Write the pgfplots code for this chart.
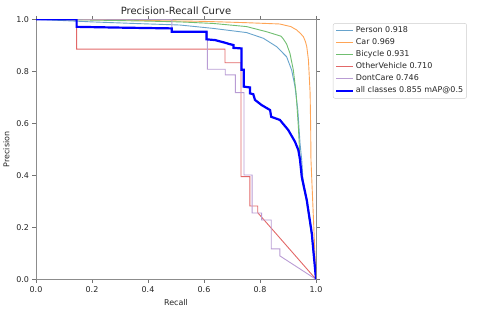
\documentclass[border=0pt]{standalone}
\usepackage{fontspec}
\setmainfont{DejaVu Sans}
\usepackage{pgfplots}
\pgfplotsset{compat=1.18}
\definecolor{c0}{HTML}{1F77B4}
\definecolor{c1}{HTML}{FF7F0E}
\definecolor{c2}{HTML}{2CA02C}
\definecolor{c3}{HTML}{D62728}
\definecolor{c4}{HTML}{9467BD}
\colorlet{l0}{c0!68!white}
\colorlet{l1}{c1!70!white}
\colorlet{l2}{c2!68!white}
\colorlet{l3}{c3!70!white}
\colorlet{l4}{c4!65!white}
\begin{document}
\begin{tikzpicture}
\path[use as bounding box] (-36bp,-31.7bp) rectangle (444bp,279.3bp);
\begin{axis}[
  at={(0,0)}, anchor=south west,
  scale only axis, width=280bp, height=260bp,
  xmin=0, xmax=1, ymin=0, ymax=1,
  xtick={0,0.2,0.4,0.6,0.8,1}, ytick={0,0.2,0.4,0.6,0.8,1},
  /pgf/number format/assume math mode=true,
  /pgf/number format/.cd, fixed, fixed zerofill, precision=1, /pgfplots/.cd,
  tick label style={font=\fontsize{8}{9.6}\selectfont, text=black!85},
  tick align=outside, major tick length=3.5bp,
  tick style={black!55, line width=0.6bp},
  axis line style={black!45, line width=0.6bp},
  title={Precision-Recall Curve},
  title style={font=\fontsize{10}{12}\selectfont, text=black!85, yshift=-4.5bp},
  xlabel={Recall}, ylabel={Precision},
  label style={font=\fontsize{8}{9.6}\selectfont, text=black!85},
  legend style={at={(1.0607,0.985)}, anchor=north west, draw=black!20,
    rounded corners=2bp, font=\fontsize{8}{9.6}\selectfont,
    row sep=1bp, inner sep=2bp,
    nodes={inner sep=1.5bp, text height=6bp, text depth=2bp, text=black!85}},
  legend cell align=left,
  legend image code/.code={\draw[#1, sharp corners] (0bp,0bp) -- (17bp,0bp);},
]
\addplot[draw=l0, line width=0.9bp] coordinates {
(0,1) (0.1,0.995) (0.2,0.99) (0.35,0.984) (0.514,0.978) (0.633,0.965) (0.752,0.949) (0.812,0.927) (0.859,0.895) (0.895,0.856) (0.913,0.805) (0.925,0.741) (0.935,0.651) (0.943,0.523) (0.949,0.459) (0.953,0.39) (0.967,0.3) (0.985,0.17) (1,0)};
\addlegendentry{Person 0.918}
\addplot[draw=l1, line width=0.9bp] coordinates {
(0,1) (0.3,0.997) (0.6,0.992) (0.75,0.987) (0.87,0.982) (0.91,0.972) (0.931,0.959) (0.945,0.945) (0.955,0.933) (0.962,0.915) (0.967,0.895) (0.973,0.843) (0.976,0.78) (0.979,0.715) (0.981,0.58) (0.982,0.46) (1,0)};
\addlegendentry{Car 0.969}
\addplot[draw=l2, line width=0.9bp] coordinates {
(0,1) (0.2,0.997) (0.4,0.993) (0.514,0.99) (0.633,0.984) (0.752,0.972) (0.824,0.952) (0.86,0.94) (0.875,0.935) (0.883,0.925) (0.895,0.905) (0.907,0.869) (0.919,0.805) (0.929,0.715) (0.937,0.587) (0.943,0.459) (0.95,0.38) (0.966,0.3) (0.984,0.17) (1,0)};
\addlegendentry{Bicycle 0.931}
\addplot[draw=l3, line width=0.9bp] coordinates {
(0,1) (0.145,1) (0.145,0.885) (0.675,0.885) (0.675,0.833) (0.732,0.833) (0.732,0.395) (0.764,0.395) (0.764,0.282) (0.792,0.282) (0.792,0.256) (1,0)};
\addlegendentry{OtherVehicle 0.710}
\addplot[draw=l4, line width=0.9bp] coordinates {
(0,1) (0.485,1) (0.485,0.952) (0.612,0.952) (0.612,0.808) (0.676,0.808) (0.676,0.786) (0.712,0.786) (0.712,0.718) (0.743,0.718) (0.743,0.401) (0.772,0.401) (0.772,0.255) (0.806,0.255) (0.806,0.228) (0.84,0.228) (0.84,0.117) (0.871,0.117) (0.871,0.09) (1,0)};
\addlegendentry{DontCare 0.746}
\addplot[draw=blue, line width=2.2bp] coordinates {
(0,1) (0.145,1) (0.145,0.971) (0.3,0.968) (0.485,0.965) (0.485,0.952) (0.609,0.952) (0.609,0.923) (0.64,0.92) (0.657,0.915) (0.675,0.91) (0.69,0.905) (0.705,0.901) (0.705,0.89) (0.734,0.888) (0.734,0.806) (0.742,0.806) (0.742,0.741) (0.764,0.738) (0.764,0.715) (0.776,0.712) (0.782,0.69) (0.806,0.67) (0.836,0.651) (0.84,0.625) (0.871,0.613) (0.901,0.574) (0.925,0.529) (0.937,0.497) (0.943,0.459) (0.949,0.395) (0.967,0.305) (0.985,0.177) (1,0)};
\addlegendentry{all classes 0.855 mAP@0.5}
\end{axis}
\end{tikzpicture}
\end{document}
